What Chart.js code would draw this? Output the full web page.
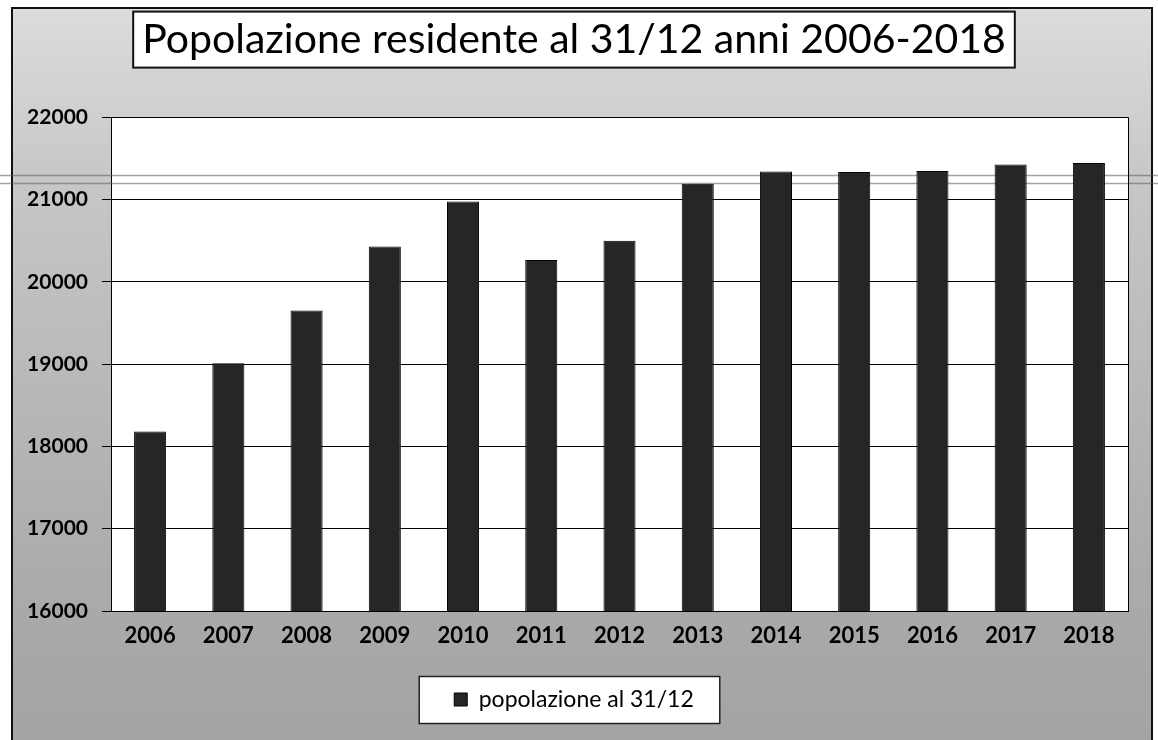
<!DOCTYPE html>
<html><head><meta charset="utf-8">
<script src="https://cdn.jsdelivr.net/npm/chart.js@4.4.1/dist/chart.umd.min.js"></script>
<style>html,body{margin:0;padding:0;background:#fff}#wrap{width:1158px;height:740px}</style>
</head><body><div id="wrap"><canvas id="c" width="1158" height="740"></canvas></div>
<script>
const categories = ['2006','2007','2008','2009','2010','2011','2012','2013','2014','2015','2016','2017','2018'];
const population = [18180, 19010, 19650, 20430, 20975, 20265, 20500, 21190, 21340, 21335, 21345, 21425, 21445];
const yMin = 16000, yMax = 22000, yStep = 1000;
const titleText = 'Popolazione residente al 31/12 anni 2006-2018';
const seriesLabel = 'popolazione al 31/12';
const FONT = 'Lato, "Open Sans", sans-serif';

const decoPlugin = {
  id: 'deco',
  beforeDraw(chart) {
    const ctx = chart.ctx, a = chart.chartArea;
    ctx.save();
    ctx.fillStyle = '#fff';
    ctx.fillRect(0, 0, chart.width, chart.height);
    const g = ctx.createLinearGradient(0, 8, 0, 740);
    g.addColorStop(0, '#dcdcdc');
    g.addColorStop(0.25, '#c6c6c6');
    g.addColorStop(0.8, '#aaaaaa');
    g.addColorStop(1, '#a4a4a4');
    ctx.fillStyle = g;
    ctx.fillRect(12, 8, 1140, 740);
    ctx.strokeStyle = '#111';
    ctx.lineWidth = 2;
    ctx.strokeRect(12, 8, 1140, 740);
    // plot area
    ctx.fillStyle = '#fff';
    ctx.fillRect(a.left, a.top, a.right - a.left, a.bottom - a.top);
    // title box
    const t = chart.titleBlock;
    const to = t.options;
    ctx.font = 'normal ' + to.font.size + 'px ' + FONT;
    const tw = ctx.measureText(titleText).width;
    const cy = t.top + to.padding.top + to.font.size * 1.2 / 2;
    const cx = (t.left + t.right) / 2;
    ctx.fillStyle = '#fff';
    ctx.fillRect(cx - tw / 2 - 9, cy - 28, tw + 18, 56);
    ctx.strokeStyle = '#111';
    ctx.lineWidth = 2;
    ctx.strokeRect(cx - tw / 2 - 9, cy - 28, tw + 18, 56);
    // legend box
    const hb = chart.legend.legendHitBoxes[0];
    if (hb) {
      const lcy = hb.top + hb.height / 2;
      ctx.fillStyle = '#fff';
      ctx.fillRect(hb.left - 35, lcy - 23, hb.width + 61, 47);
      ctx.strokeStyle = '#222';
      ctx.lineWidth = 1.5;
      ctx.strokeRect(hb.left - 35, lcy - 23, hb.width + 61, 47);
    }
    ctx.restore();
  },
  beforeDatasetsDraw(chart) {
    const ctx = chart.ctx, a = chart.chartArea;
    ctx.save();
    // scan artefact band
    ctx.strokeStyle = 'rgba(90,90,90,0.55)';
    ctx.lineWidth = 1.5;
    ctx.beginPath();
    ctx.moveTo(0, 175.5); ctx.lineTo(1158, 175.5);
    ctx.moveTo(0, 183.5); ctx.lineTo(1158, 183.5);
    ctx.stroke();
    // plot right border
    ctx.strokeStyle = '#000';
    ctx.lineWidth = 1;
    ctx.beginPath();
    ctx.moveTo(Math.round(a.right) + 0.5, a.top);
    ctx.lineTo(Math.round(a.right) + 0.5, a.bottom);
    ctx.stroke();
    ctx.restore();
  }
};

new Chart(document.getElementById('c'), {
  type: 'bar',
  data: {
    labels: categories,
    datasets: [{
      label: seriesLabel,
      data: population,
      backgroundColor: '#262626',
      borderColor: '#000',
      borderWidth: 1,
      categoryPercentage: 1,
      barPercentage: 0.41
    }]
  },
  options: {
    responsive: false,
    animation: false,
    devicePixelRatio: 1,
    layout: { padding: { left: 20, right: 30, top: 0, bottom: 19 } },
    plugins: {
      title: {
        display: true,
        text: titleText,
        color: '#000',
        font: { family: FONT, size: 41, weight: 'normal' },
        padding: { top: 15, bottom: 53 }
      },
      legend: {
        display: true,
        position: 'bottom',
        labels: {
          color: '#000',
          font: { family: FONT, size: 23 },
          boxWidth: 13,
          boxHeight: 13,
          padding: 20
        }
      },
      tooltip: { enabled: false }
    },
    scales: {
      x: {
        grid: { display: false },
        border: { display: true, color: '#000', width: 1 },
        ticks: { color: '#000', font: { family: FONT, size: 22, weight: 'bold' }, padding: 4, maxRotation: 0 },
        afterFit(s) { s.height = 57; }
      },
      y: {
        min: yMin, max: yMax,
        grid: { color: '#000', lineWidth: 1, drawTicks: true, tickLength: 9, tickColor: '#000' },
        border: { display: true, color: '#000', width: 1 },
        ticks: {
          stepSize: yStep, color: '#000', padding: 14,
          font: { family: FONT, size: 21, weight: 'bold' },
          callback: v => String(v)
        },
        afterFit(s) { s.width = 91; }
      }
    }
  },
  plugins: [decoPlugin]
});
</script>
</body></html>
